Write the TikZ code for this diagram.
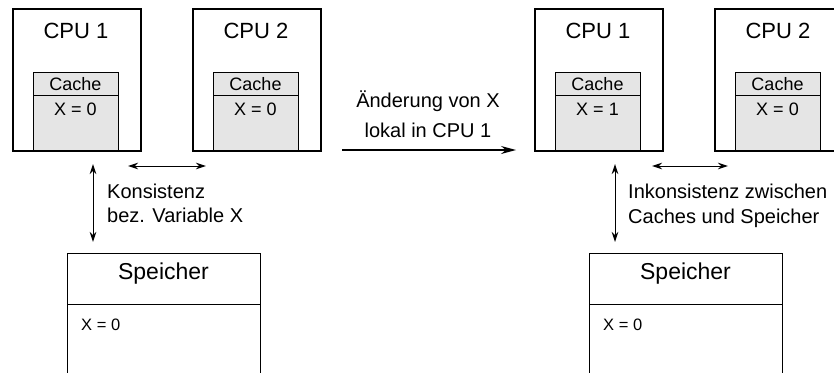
\documentclass[tikz,border=0pt]{standalone}
\usepackage{fontspec}
\setmainfont{Liberation Sans}
\usetikzlibrary{arrows.meta}

\definecolor{cachefill}{gray}{0.9}

\tikzset{
  box/.style={draw, line width=1.5pt, inner sep=0pt, anchor=north west},
  cpubox/.style={box, minimum height=142pt},
  cachehead/.style={box, fill=cachefill, line width=1.2pt, minimum width=85pt, minimum height=23pt},
  cachebody/.style={box, fill=cachefill, line width=1.2pt, minimum width=85pt, minimum height=55pt},
  memhead/.style={box, line width=1.2pt, minimum width=193pt, minimum height=51pt},
  memtop/.style={box, line width=1.2pt, minimum width=193pt, minimum height=140pt},
  big/.style={font=\fontsize{22}{26}\selectfont, inner sep=0pt, anchor=base},
  mid/.style={font=\fontsize{18}{22}\selectfont, inner sep=0pt, anchor=base},
  small/.style={font=\fontsize{16.5}{20}\selectfont, inner sep=0pt, anchor=base west},
  note/.style={font=\fontsize{20}{24}\selectfont, inner sep=0pt, anchor=base west},
  link/.style={line width=1pt, {Stealth[length=10pt,width=6.5pt]}-{Stealth[length=10pt,width=6.5pt]}},
  step arrow/.style={line width=1.1pt, -{Stealth[length=15pt,width=8pt]}}
}

% one system: two CPUs with their caches and the shared memory
% #1 = x offset, #2 = value in the cache of CPU 1, #3 = name prefix,
% #4 = width of the CPU 2 box
\newcommand{\drawsystem}[4]{
  \begin{scope}[xshift=#1]
    \node[cpubox, minimum width=128pt] (#3cpuA) at (12,8) {};
    \node[cpubox, minimum width=#4] (#3cpuB) at (192,8) {};
    \node[big] (#3cpuAlabel) at (76,38.5) {CPU 1};
    \node[big] (#3cpuBlabel) at (256,38.5) {CPU 2};
    % caches
    \node[cachebody] (#3cacheAbody) at (33,95) {};
    \node[cachehead] (#3cacheAhead) at (33,72) {};
    \node[cachebody] (#3cacheBbody) at (213,95) {};
    \node[cachehead] (#3cacheBhead) at (213,72) {};
    \node[mid] (#3cacheAtitle) at (75.5,90.5) {Cache};
    \node[mid] (#3cacheBtitle) at (255.5,90.5) {Cache};
    \node[mid] (#3cacheAval) at (75.5,115) {X = #2};
    \node[mid] (#3cacheBval) at (255.5,115) {X = 0};
    % the CPU boxes' bottom edge runs over the caches
    \draw[line width=1.5pt] (#3cpuA.south west) -- (#3cpuA.south east);
    \draw[line width=1.5pt] (#3cpuB.south west) -- (#3cpuB.south east);
    % memory
    \node[memtop] (#3mem) at (67,253) {};
    \node[memhead] (#3memhead) at (67,253) {};
    \node[big, font=\fontsize{23}{27}\selectfont] (#3memtitle) at (163.5,279.5) {Speicher};
    \node[small] (#3memval) at (81,330) {X = 0};
  \end{scope}
}

\begin{document}
\begin{tikzpicture}[x=1pt, y=-1pt]
\useasboundingbox (0,0) rectangle (834,372);
\clip (0,0) rectangle (834,372);

\drawsystem{0pt}{0}{l}{128pt}
\drawsystem{522pt}{1}{r}{170pt}

% arrows of the left system
\coordinate (lhA) at (128,166);
\coordinate (lhB) at (206,166);
\coordinate (lvA) at (93,164);
\coordinate (lvB) at (93,242);
\draw[link] (lhA) -- (lhB);
\draw[link] (lvA) -- (lvB);
\node[note] (konsA) at (107,198) {Konsistenz};
\node[note] (konsB) at (107,222.5) {bez. Variable X};

% arrows of the right system
\coordinate (rhA) at (652,166);
\coordinate (rhB) at (728,166);
\coordinate (rvA) at (615,164);
\coordinate (rvB) at (615,242);
\draw[link] (rhA) -- (rhB);
\draw[link] (rvA) -- (rvB);
\node[note] (inkA) at (628,198) {Inkonsistenz zwischen};
\node[note] (inkB) at (628,223) {Caches und Speicher};

% transition between the two states
\coordinate (stA) at (342,150);
\coordinate (stB) at (516,150);
\draw[step arrow] (stA) -- (stB);
\node[note, anchor=base] (chgA) at (428,107) {Änderung von X};
\node[note, anchor=base] (chgB) at (428,137) {lokal in CPU 1};
\end{tikzpicture}
\end{document}
